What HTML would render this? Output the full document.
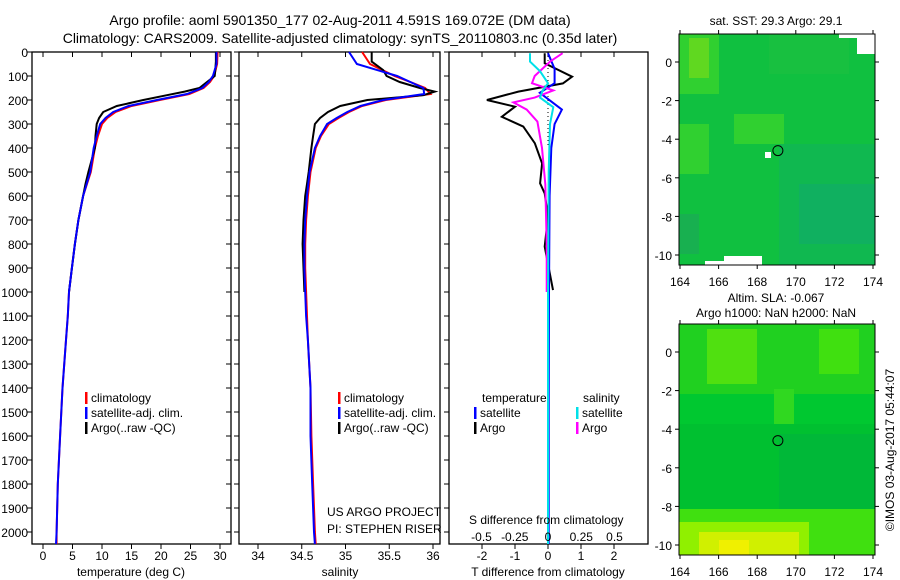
<!DOCTYPE html>
<html><head><meta charset="utf-8"><style>
body{margin:0;background:#fff}
svg{display:block;font-family:"Liberation Sans",sans-serif}
text{fill:#000}
</style></head><body>
<svg id="c" width="900" height="580" viewBox="0 0 900 580" xmlns="http://www.w3.org/2000/svg">
<text x="340" y="25" font-size="14" text-anchor="middle">Argo profile: aoml 5901350_177 02-Aug-2011 4.591S 169.072E (DM data)</text>
<text x="340" y="43" font-size="14" text-anchor="middle">Climatology: CARS2009. Satellite-adjusted climatology: synTS_20110803.nc (0.35d later)</text>
<g id="plots"></g>
<g id="maps"></g>
<text x="776" y="25" font-size="12" text-anchor="middle">sat. SST: 29.3 Argo: 29.1</text>
<text x="776" y="302" font-size="12" text-anchor="middle">Altim. SLA: -0.067</text>
<text x="776" y="317" font-size="12" text-anchor="middle">Argo h1000: NaN h2000: NaN</text>
<text transform="translate(894,450) rotate(-90)" font-size="12" text-anchor="middle">©IMOS 03-Aug-2017 05:44:07</text>
</svg>
<script>
// ---- data ----
const depthTicks=[0,100,200,300,400,500,600,700,800,900,1000,1100,1200,1300,1400,1500,1600,1700,1800,1900,2000];
const tempTicks=[0,5,10,15,20,25,30];
const salTicks=[34,34.5,35,35.5,36];
const salTickLabels=['34','34.5','35','35.5','36'];
const dTTicks=[-2,-1,0,1,2];
const dSTicks=[-0.5,-0.25,0,0.25,0.5];
const dSTickLabels=['-0.5','-0.25','0','0.25','0.5'];
const climDepth=[0,50,100,125,150,175,200,225,250,275,300,350,400,500,600,700,800,900,1000,1100,1200,1400,1600,1800,2000,2050];
const tempClim=[29.6,29.5,29.0,28.3,27.2,24.8,19.8,15.0,12.3,10.9,10.0,9.3,8.8,8.1,6.8,6.0,5.4,4.9,4.4,4.2,3.9,3.3,2.9,2.5,2.3,2.3];
const tempSat=[29.4,29.4,28.8,28.1,27.0,24.4,19.3,14.5,11.9,10.6,9.7,9.1,8.6,8.0,6.8,6.0,5.4,4.9,4.4,4.2,3.9,3.3,2.9,2.5,2.3,2.2];
const salClim=[35.19,35.28,35.56,35.74,35.91,35.97,35.46,35.19,35.04,34.92,34.81,34.72,34.66,34.6,34.57,34.55,34.54,34.54,34.55,34.56,34.57,34.6,34.61,34.63,34.65,34.66];
const salSat=[35.04,35.13,35.59,35.74,35.89,35.9,35.43,35.17,35.02,34.9,34.79,34.71,34.65,34.59,34.56,34.54,34.53,34.53,34.54,34.55,34.57,34.6,34.6,34.62,34.64,34.65];
const argoDepth=[0,40,75,100,125,150,165,180,200,225,250,275,300,350,400,500,550,600,700,800,900,1000];
const tempArgo=[29.3,29.3,29.2,29.1,27.8,26.5,24.0,21.0,17.0,12.5,10.2,9.5,9.1,8.9,8.8,7.7,7.2,6.8,6.0,5.4,4.9,4.4];
const salArgo=[35.3,35.3,35.43,35.47,35.62,35.85,36.02,35.89,35.25,34.94,34.8,34.71,34.65,34.63,34.61,34.58,34.56,34.54,34.52,34.51,34.52,34.53];
const dDepth=[5,47,103,131,165,200,228,270,311,380,464,547,589,686,811,992];
const dTArgo=[-0.1,-0.1,0.73,0.45,-0.9,-1.85,-1.0,-1.4,-0.75,-0.4,-0.18,-0.24,-0.1,0,-0.1,0.15];
const satDDepth=[5,70,130,170,240,300,400,600,1000,1500,2050];
const dTSat=[0,0.2,0.2,-0.25,0.42,0.2,0.1,0.05,0.03,0.02,0.02];
const sDDepth=[5,40,80,130,160,190,230,300,500,1000,1500,2050];
const dSSat=[-0.135,-0.135,-0.06,0,-0.04,-0.06,0.04,0.015,0.005,0,0,0];
const mDDepth=[5,40,100,130,160,190,210,240,290,400,550,800,1000];
const dSArgo=[0.11,0.015,-0.1,-0.12,0.04,-0.1,-0.26,-0.16,-0.08,-0.045,-0.02,-0.01,-0.01];
const lonTicks=[164,166,168,170,172,174];
const latTicks=[0,-2,-4,-6,-8,-10];
const floatLon=169.072, floatLat=-4.591;

// ---- helpers ----
const NS='http://www.w3.org/2000/svg';
function mk(tag,attrs,parent){const e=document.createElementNS(NS,tag);for(const k in attrs)e.setAttribute(k,attrs[k]);parent.appendChild(e);return e;}
const plots=document.getElementById('plots');
const yD=d=>52+0.24*d;
const TOP=52, BOT=544;
const panels=[
 {name:'temperature',x0:32,x1:231,ax:v=>43+5.9*v,ticks:tempTicks,labels:tempTicks.map(String),title:'temperature (deg C)',tx:131},
 {name:'salinity',x0:239,x1:440,ax:v=>258+87.5*(v-34),ticks:salTicks,labels:salTickLabels,title:'salinity',tx:340},
 {name:'difference',x0:449,x1:648,ax:v=>548+33*v,ticks:dTTicks,labels:dTTicks.map(String),title:'T difference from climatology',tx:548}
];
const sAx=v=>548+133*v;
function line(xs,ds,ax,color,name,w){
  const pts=xs.map((v,i)=>ax(v).toFixed(1)+','+yD(ds[i]).toFixed(1)).join(' ');
  const p=mk('polyline',{points:pts,fill:'none',stroke:color,'stroke-width':w||2},plots);
  
  
}
panels.forEach((p,pi)=>{
  const r=mk('rect',{x:p.x0,y:TOP,width:p.x1-p.x0,height:BOT-TOP,fill:'none',stroke:'#000','stroke-width':1.3},plots);
  
  
  p.ticks.forEach((t,i)=>{
    const x=p.ax(t);
    mk('line',{x1:x,x2:x,y1:BOT,y2:BOT+5,stroke:'#000'},plots);
    mk('line',{x1:x,x2:x,y1:TOP,y2:TOP+5,stroke:'#000'},plots);
    const tl=mk('text',{x:x,y:BOT+16,'font-size':12,'text-anchor':'middle'},plots);
    tl.textContent=p.labels[i];
    
    
  });
  depthTicks.forEach(d=>{
    mk('line',{x1:p.x0,x2:p.x0-5,y1:yD(d),y2:yD(d),stroke:'#000'},plots);
    if(pi===0){
      mk('line',{x1:p.x1,x2:p.x1-5,y1:yD(d),y2:yD(d),stroke:'#000'},plots);
      const t=mk('text',{x:28,y:yD(d)+5,'font-size':12,'text-anchor':'end'},plots);
      t.textContent=d;
      
      
    }
  });
  const at=mk('text',{x:p.tx,y:576,'font-size':12,'text-anchor':'middle'},plots);
  at.textContent=p.title;
  
  
});
// panel 1
line(tempClim,climDepth,panels[0].ax,'#ff0000','temp-climatology-line');
line(tempArgo,argoDepth,panels[0].ax,'#000000','temp-argo-line');
line(tempSat,climDepth,panels[0].ax,'#0000ff','temp-satellite-line');
// panel 2
line(salClim,climDepth,panels[1].ax,'#ff0000','sal-climatology-line');
line(salArgo,argoDepth,panels[1].ax,'#000000','sal-argo-line');
line(salSat,climDepth,panels[1].ax,'#0000ff','sal-satellite-line');
// panel 3
const zl=mk('line',{x1:548,x2:548,y1:yD(0),y2:yD(400),stroke:'#000','stroke-dasharray':'1,3'},plots);


line(dTArgo,dDepth,panels[2].ax,'#000000','dT-argo-line');
line(dTSat,satDDepth,panels[2].ax,'#0000ff','dT-satellite-line');
line(dSArgo,mDDepth,sAx,'#ff00ff','dS-argo-line');
line(dSSat,sDDepth,sAx,'#00e0e8','dS-satellite-line');
dSTicks.forEach((t,i)=>{
  const tl=mk('text',{x:sAx(t),y:541,'font-size':12,'text-anchor':'middle'},plots);
  tl.textContent=dSTickLabels[i];
  
  
});
function txt(x,y,s,name,anchor){const t=mk('text',{x:x,y:y,'font-size':12,'text-anchor':anchor||'start'},plots);t.textContent=s;}
txt(469,524,'S difference from climatology','dS-axis-title');
txt(327,516,'US ARGO PROJECT','project-label');
txt(327,533,'PI: STEPHEN RISER','pi-label');
function leg(mx,y,color,label,name){
  const m=mk('rect',{x:mx,y:y-10,width:2.5,height:12,fill:color},plots);
  
  
  txt(mx+6,y,label,name+'-label');
}
[[85,'temp'],[338,'sal']].forEach(([mx,n])=>{
  leg(mx,402,'#ff0000','climatology',n+'-legend-climatology');
  leg(mx,417,'#0000ff','satellite-adj. clim.',n+'-legend-satellite');
  leg(mx,432,'#000000','Argo(..raw -QC)',n+'-legend-argo');
});
txt(482,402,'temperature','diff-legend-temperature-header');
txt(583,402,'salinity','diff-legend-salinity-header');
leg(474,417,'#0000ff','satellite','diff-legend-t-satellite');
leg(474,432,'#000000','Argo','diff-legend-t-argo');
leg(576,417,'#00e0e8','satellite','diff-legend-s-satellite');
leg(576,432,'#ff00ff','Argo','diff-legend-s-argo');

// ---- maps ----
const maps=document.getElementById('maps');
function drawMap(top,lat0y,id,base,blobs){
  const lx=l=>680+19.3*(l-164), ly=l=>lat0y-19.3*l;
  const g=mk('g',{},maps);
  
  
  mk('rect',{x:679,y:top,width:196,height:231,fill:base},g);
  blobs.forEach(b=>mk('rect',{x:679+b[0],y:top+b[1],width:b[2],height:b[3],fill:b[4]},g));
  mk('rect',{x:679,y:top,width:196,height:231,fill:'none',stroke:'#000','stroke-width':1},g);
  lonTicks.forEach(l=>{
    mk('line',{x1:lx(l),x2:lx(l),y1:top+231,y2:top+235,stroke:'#000'},g);
    mk('line',{x1:lx(l),x2:lx(l),y1:top,y2:top-4,stroke:'#000'},g);
    const t=mk('text',{x:lx(l),y:top+252,'font-size':12,'text-anchor':'middle'},g);t.textContent=l;
    
    
  });
  latTicks.forEach(l=>{
    mk('line',{x1:679,x2:675,y1:ly(l),y2:ly(l),stroke:'#000'},g);
    mk('line',{x1:875,x2:879,y1:ly(l),y2:ly(l),stroke:'#000'},g);
    const t=mk('text',{x:672,y:ly(l)+5,'font-size':12,'text-anchor':'end'},g);t.textContent=l;
    
    
  });
  const c=mk('circle',{cx:lx(floatLon),cy:ly(floatLat),r:5,fill:'none',stroke:'#000'},g);
  
  
}
drawMap(34,62,'sst-map','#10c040',[
 [0,0,40,60,'#30d030'],[10,4,20,40,'#60d820'],[0,90,30,50,'#30d030'],[55,80,50,30,'#30d030'],
 [100,110,96,121,'#10b850'],[120,150,76,60,'#10b060'],[0,180,20,40,'#18b050'],[90,0,80,40,'#18c040'],
 [178,0,18,20,'#ffffff'],[160,0,18,4,'#ffffff'],[45,222,38,9,'#ffffff'],[26,227,20,4,'#ffffff'],[86,118,6,6,'#ffffff']
]);
drawMap(324,352,'sla-map','#00c830',[
 [0,0,196,70,'#20d020'],[28,5,50,55,'#50e010'],[140,5,40,45,'#40e010'],[95,65,20,40,'#30d820'],
 [0,100,196,100,'#00c030'],[100,110,96,90,'#00b838'],
 [0,185,196,46,'#40e010'],[0,198,130,33,'#90f000'],[20,208,100,23,'#d0f000'],[40,216,30,15,'#f0f000']
]);
</script>
</body></html>
